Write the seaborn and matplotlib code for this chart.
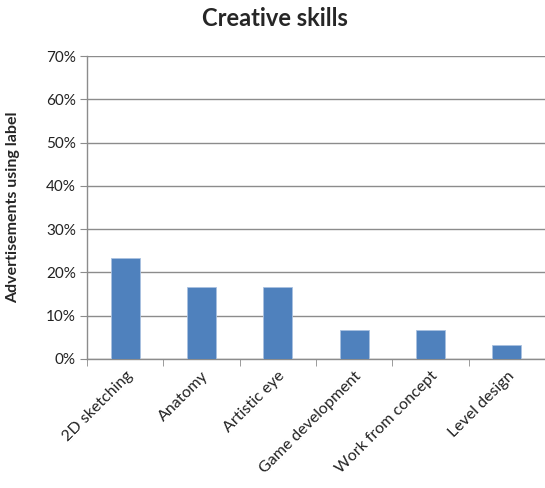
import matplotlib
matplotlib.use("Agg")
import matplotlib.pyplot as plt
import seaborn as sns
import pandas as pd
from matplotlib.ticker import PercentFormatter, FixedLocator

categories = ["2D sketching", "Anatomy", "Artistic eye", "Game development", "Work from concept", "Level design"]
values = [23.3, 16.7, 16.7, 6.7, 6.7, 3.3]
yticks = [0, 10, 20, 30, 40, 50, 60, 70]

df = pd.DataFrame({"skill": categories, "share": values})

sns.set_style("white")
plt.rcParams["font.family"] = ["Lato", "DejaVu Sans"]

fig = plt.figure(figsize=(5.45, 4.88), dpi=100)
ax = fig.add_axes([87/545, 1-359/488, 1-87/545, (359-56)/488])

sns.barplot(data=df, x="skill", y="share", color="#4F81BD", width=0.38,
            saturation=1, ax=ax, zorder=3, edgecolor="#A9C1E0", linewidth=0.6)

ax.set_ylim(0, 70)
ax.set_xlim(-0.5, 5.5)
ax.set_yticks(yticks)
ax.yaxis.set_major_formatter(PercentFormatter(decimals=0))
ax.grid(axis="y", color="#8C8C8C", linewidth=1, zorder=0)
ax.grid(axis="x", visible=False)

for s in ["top", "right"]:
    ax.spines[s].set_visible(False)
for s in ["left", "bottom"]:
    ax.spines[s].set_color("#8C8C8C")
    ax.spines[s].set_linewidth(1)

ax.tick_params(axis="y", length=5, color="#8C8C8C", labelsize=11, labelcolor="#222222", pad=3, left=True)
ax.set_xticks(range(len(categories)))
ax.set_xticklabels(categories, rotation=45, ha="right", rotation_mode="anchor", fontsize=11.5, color="#222222")
ax.tick_params(axis="x", length=0, pad=7)
ax.xaxis.set_minor_locator(FixedLocator([i - 0.5 for i in range(len(categories) + 1)]))
ax.tick_params(axis="x", which="minor", length=5, color="#8C8C8C", bottom=True)

ax.set_xlabel("")
ax.set_ylabel("Advertisements using label", fontsize=11.5, fontweight="bold")
ax.yaxis.set_label_coords(-0.146, 0.5)
fig.text(0.505, 0.963, "Creative skills", ha="center", va="center", fontsize=17, fontweight="bold")

fig.savefig("out.png", dpi=100)
